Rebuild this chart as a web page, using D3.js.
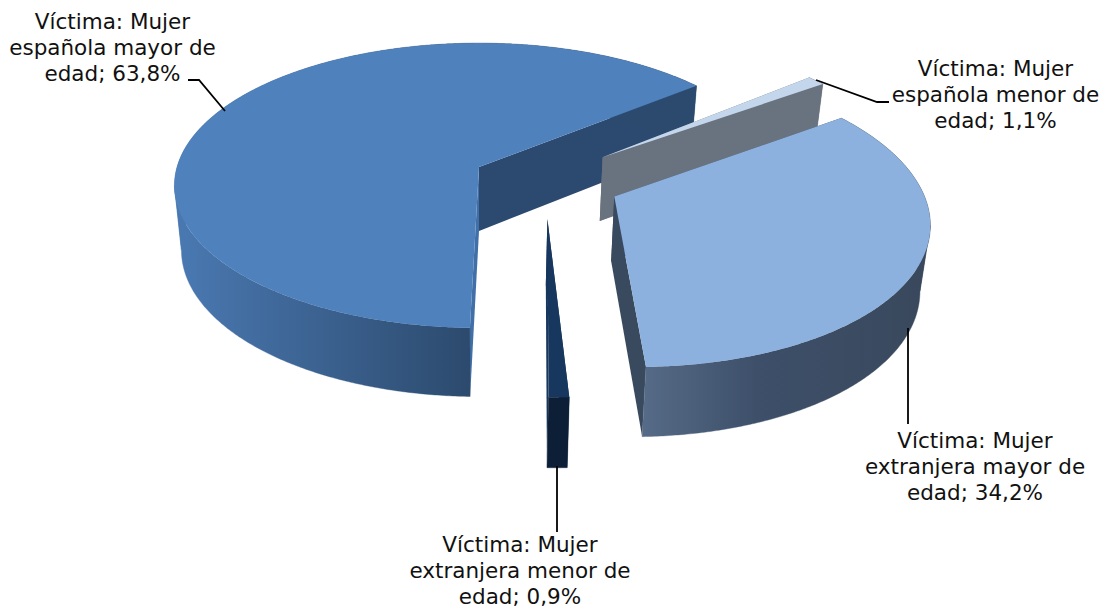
<!DOCTYPE html>
<html><head><meta charset="utf-8">
<style>html,body{margin:0;padding:0;background:#fff}svg{display:block}text{font-family:"DejaVu Sans",sans-serif;font-size:21.5px;fill:#111}</style>
<script src="https://cdn.jsdelivr.net/npm/d3@7"></script>
</head><body><svg id="c" width="1109" height="611"></svg>
<script>
const categories = ["Víctima: Mujer española mayor de edad","Víctima: Mujer española menor de edad","Víctima: Mujer extranjera mayor de edad","Víctima: Mujer extranjera menor de edad"];
const values = [63.8,1.1,34.2,0.9];
const labelLines = [
  ["Víctima: Mujer","española mayor de","edad; 63,8%"],
  ["Víctima: Mujer","española menor de","edad; 1,1%"],
  ["Víctima: Mujer","extranjera mayor de","edad; 34,2%"],
  ["Víctima: Mujer","extranjera menor de","edad; 0,9%"]];
const explode = [[0,0],[0.413,-0.07],[0.436,0.205],[0.216,0.355]];
const topColors = ["#4f81bd","#c3d6ec","#8cb1de","#17375e"];
const faceColors = ["#2c4a6f","#69727f","#3a4a5e","#17375e"];
const startFaceColors = ["#416fa8","#69727f","#3a4a5e","#17375e"];
const wallStops = [
  [["0","#4a79b2"],["1","#2c4a6d"]],
  [["0","#69727f"],["1","#69727f"]],
  [["0","#566b87"],["0.4","#3d4f69"],["1","#39485c"]],
  [["0","#0c1f36"],["1","#0c1f36"]]];
const wallExtent = [[175,471],[800,830],[643,930],[547,568]];
const labelPos = [[112.5,29],[995.5,76],[975,448],[520,552]];
const leaders = [
  [[188,80],[199,80],[225,111]],
  [[816,80],[877,102],[889,102]],
  [[908,328],[908,424]],
  [[557,466],[557,532]]];

const X0=479,Y0=167,A=302,B=140,P=0.13,DEPTH=64,BASE=0.977;
const deg=Math.PI/180, start=181.5*deg;
const arcs=d3.pie().sort(null).startAngle(start).endAngle(start+2*Math.PI)(values);
const svg=d3.select("#c"), defs=svg.append("defs");
const line=d3.line();
function topPt(u,v){const w=1-P*v;return [X0+A*u/w,Y0+B*v/w];}
function basePt(u,v){const w=1-P*v,p=topPt(u,v);return [X0+BASE*(p[0]-X0),p[1]+DEPTH/Math.sqrt(w)];}
function rim(i,a0,a1,fn){
  const n=Math.max(4,Math.ceil(Math.abs(a1-a0)/(0.5*deg)));
  return d3.range(n+1).map(k=>{const a=a0+(a1-a0)*k/n;
    return fn(Math.sin(a)+explode[i][0],-Math.cos(a)+explode[i][1]);});
}
// angles where the rim's silhouette turns: the wall is split there so it never folds over itself
function foldAngles(i,a0,a1){
  const n=400, as=d3.range(n+1).map(k=>a0+(a1-a0)*k/n);
  const xs=as.map(a=>topPt(Math.sin(a)+explode[i][0],-Math.cos(a)+explode[i][1])[0]);
  const out=[];
  for(let k=1;k<n;k++){ if((xs[k]-xs[k-1])*(xs[k+1]-xs[k])<0) out.push(as[k]); }
  return out;
}
const g=svg.append("g");
wallStops.forEach((st,i)=>{
  const gr=defs.append("linearGradient").attr("id","w"+i).attr("gradientUnits","userSpaceOnUse")
    .attr("x1",wallExtent[i][0]).attr("x2",wallExtent[i][1]).attr("y1",0).attr("y2",0);
  st.forEach(s=>gr.append("stop").attr("offset",s[0]).attr("stop-color",s[1]));
});
[0,3,1,2].forEach(i=>{
  const d=arcs[i], e=explode[i], a0=d.startAngle, a1=d.endAngle;
  const face=(a,col)=>{
    const u=Math.sin(a)+e[0], v=-Math.cos(a)+e[1];
    g.append("path").attr("d",line([topPt(e[0],e[1]),topPt(u,v),basePt(u,v),basePt(e[0],e[1])])+"Z").attr("fill",col);
  };
  face(a0,startFaceColors[i]);
  face(a1,faceColors[i]);
  const stops=[a0,...foldAngles(i,a0,a1),a1];
  d3.pairs(stops).forEach(([s0,s1])=>{
    g.append("path").attr("d",line(rim(i,s0,s1,topPt).concat(rim(i,s1,s0,basePt)))+"Z")
      .attr("fill","url(#w"+i+")").attr("stroke","url(#w"+i+")").attr("stroke-width",0.4);
  });
  g.append("path").attr("d",line([topPt(e[0],e[1])].concat(rim(i,a0,a1,topPt)))+"Z").attr("fill",topColors[i]);
});
svg.append("g").selectAll("path").data(leaders).join("path")
  .attr("d",d=>line(d)).attr("fill","none").attr("stroke","#000").attr("stroke-width",1.8);
labelLines.forEach((ls,i)=>{
  const t=svg.append("text").attr("text-anchor","middle");
  ls.forEach((s,k)=>t.append("tspan").attr("x",labelPos[i][0]).attr("y",labelPos[i][1]+k*26).text(s));
});
</script></body></html>
